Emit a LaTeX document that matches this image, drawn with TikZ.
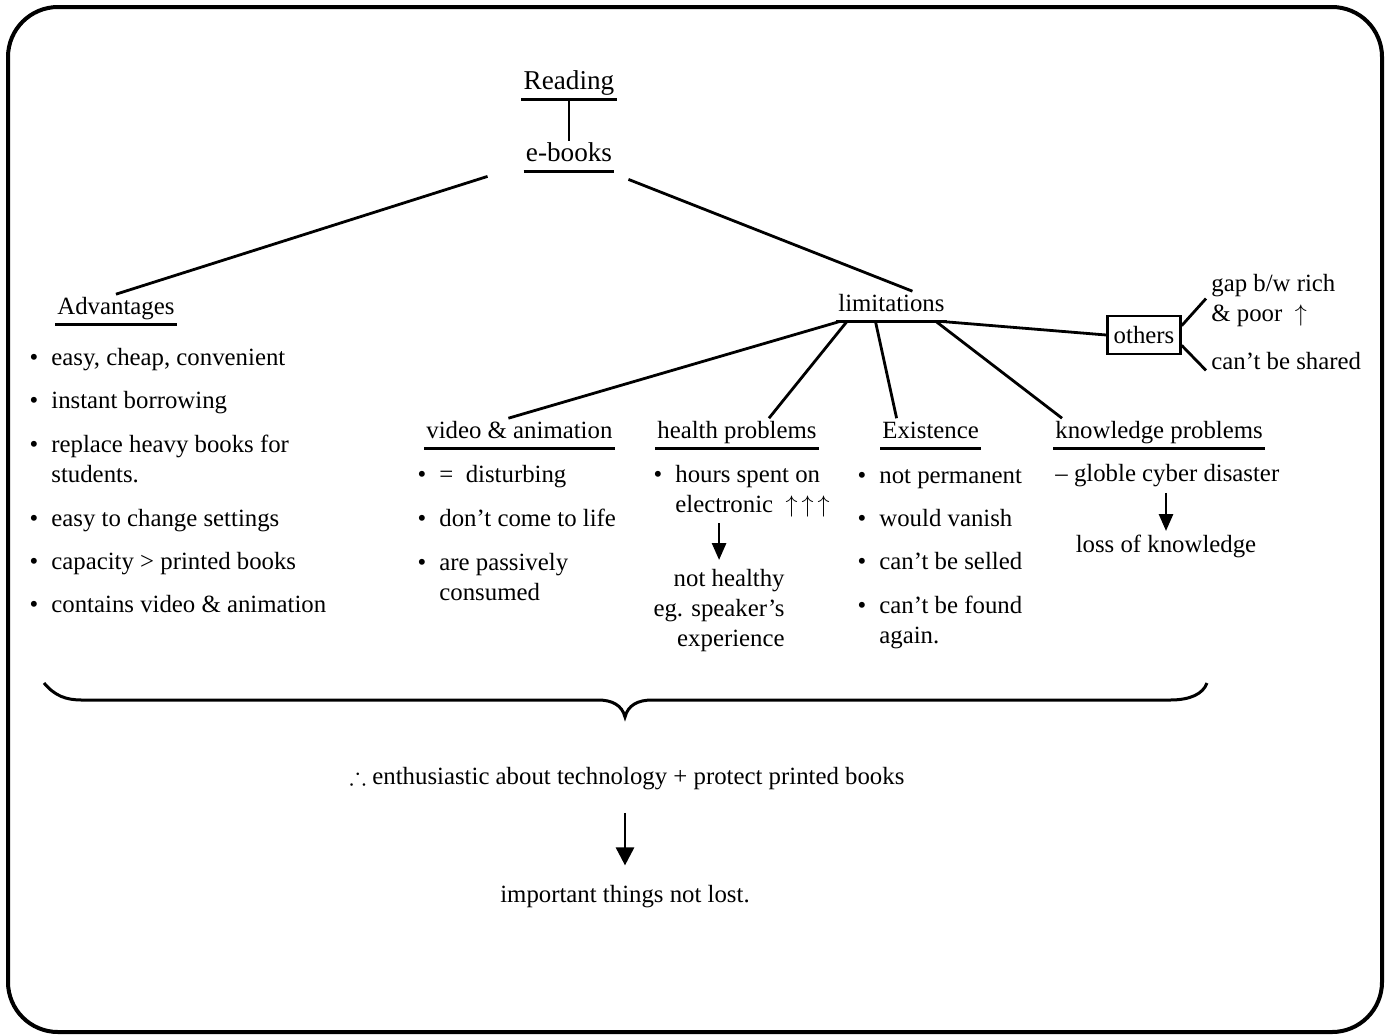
\documentclass[tikz,border=0pt]{standalone}
\usepackage{fontspec}
\usepackage{amssymb}
\setmainfont{Liberation Serif}
\usetikzlibrary{arrows.meta}

\newcommand{\bl}{\strut\llap{\textbullet\hspace{6.5pt}}}

\begin{document}
\begin{tikzpicture}[x=0.5pt,y=-0.5pt,
		font=\fontsize{12.4}{15}\selectfont,
		head/.style={inner xsep=1pt, inner ysep=2.5pt, text height=0.72em, text depth=0.25em},
		big/.style={font=\fontsize{13.6}{16}\selectfont},
		item/.style={anchor=north west, inner sep=0pt, align=left},
		uline/.style={line width=1.5pt},
		link/.style={line width=1.4pt},
		down/.style={line width=1.4pt, -{Triangle[length=8.5pt,width=7pt]}}]
			\useasboundingbox (0,0) rectangle (1390,1034);
			\draw[line width=2pt, rounded corners=25pt] (8,7) rectangle (1382,1032);

			\node[head, big, anchor=base] (read) at (569,  89)  {Reading};
			\node[head, big, anchor=base] (ebk)  at (569, 161)  {e-books};
			\node[head, anchor=base west] (adv)  at (55,  314)  {Advantages};
			\node[head, anchor=base west] (lim)  at (836, 311)  {limitations};
			\node[head, anchor=base west] (vid)  at (424, 438)  {video \& animation};
			\node[head, anchor=base west] (hlt)  at (655, 438)  {health problems};
			\node[head, anchor=base west] (exi)  at (880, 438)  {Existence};
			\node[head, anchor=base west] (knw)  at (1053,438)  {knowledge problems};
			\foreach \n in {read,ebk,adv,lim,vid,hlt,exi,knw}
			{	\draw[uline] (\n.south west) -- (\n.south east);
			}

			\def\advlist {344/{easy, cheap, convenient}, 387/instant borrowing, 431/{replace heavy books for\\students.}, 505/easy to change settings, 548/capacity > printed books, 591/contains video \& animation}  % left column
			\foreach \y/\t [count=\i] in \advlist
			{	\node[item] (adv\i) at (51,\y) {\bl\t};
			}
			\def\vidlist {461/{=\enspace{}disturbing}, 505/don't come to life, 549/{are passively\\consumed}}
			\foreach \y/\t [count=\i] in \vidlist
			{	\node[item] (vid\i) at (439,\y) {\bl\t};
			}
			\def\exilist {462/not permanent, 505/would vanish, 548/can't be selled, 592/{can't be found\\again.}}
			\foreach \y/\t [count=\i] in \exilist
			{	\node[item] (exi\i) at (879,\y) {\bl\t};
			}

			\node[item] (hrs) at (675,461) {\bl hours spent on\\electronic\enspace$\uparrow\,\uparrow\,\uparrow$};
			\node[item, anchor=north east, align=right] (nh) at (785,565) {\strut not healthy\\eg. speaker's\\experience};
			\node[item] (glb) at (1055,460) {\strut -- globle cyber disaster};
			\node[item, anchor=north] (los) at (1166,531) {\strut loss of knowledge};

			\node[draw, line width=1.4pt, inner xsep=3pt, minimum height=19pt] (oth) at (1144,335) {others};
			\node[item] (gap) at (1211,270) {\strut gap b/w rich\\\& poor\enspace$\uparrow$};
			\node[item] (shr) at (1211,348) {\strut can't be shared};

			% tree lines
			\draw[link] (read.south) -- (ebk.north);
			\draw[link] (adv.north) -- ([shift={(-18pt,-2.5pt)}]ebk.south west);
			\draw[link] ([shift={(7pt,-4pt)}]ebk.south east) -- ([xshift=10.5pt]lim.north);
			\draw[link] ([xshift=2pt]lim.south west) -- ([xshift=-5.5pt]vid.north);
			\draw[link] ([xshift=5.5pt]lim.south west) -- ([xshift=16pt]hlt.north);
			\draw[link] ([xshift=-8pt]lim.south) -- ([xshift=-17pt]exi.north);
			\draw[link] ([xshift=-5.5pt]lim.south east) -- ([xshift=4.5pt]knw.north west);
			\draw[link] ([xshift=-3pt]lim.south east) -- (oth.west);
			\draw[link] ([yshift=-5.5pt]oth.north east) -- ([xshift=-2.5pt]gap.west);
			\draw[link] ([yshift=5pt]oth.south east) -- ([shift={(-2.5pt,-3.5pt)}]shr.west);

			\draw[down, shorten <=3pt, shorten >=2.5pt] (hrs.south -| nh.north) -- (nh.north);
			\draw[down, shorten <=1pt] (los.north |- glb.south) -- (los.north);

			% brace
			\draw[line width=1.5pt] (44,683) .. controls (55,696) and (66,700) .. (82,700) -- (598,700)
				.. controls (612,700) and (622,705) .. (625,717) .. controls (628,705) and (638,700) .. (652,700)
				-- (1170,700) .. controls (1190,700) and (1203,694) .. (1207,683);

			\node[anchor=base, inner sep=0pt] (con) at (627,784) {$\therefore$ enthusiastic about technology + protect printed books};
			\node[anchor=base, inner sep=0pt] (imp) at (625,902) {important things not lost.};
			\draw[down, -{Triangle[length=9pt,width=9pt]}, shorten <=11.5pt, shorten >=9.5pt] (con.south -| imp.north) -- (imp.north);
		\end{tikzpicture}
\end{document}
